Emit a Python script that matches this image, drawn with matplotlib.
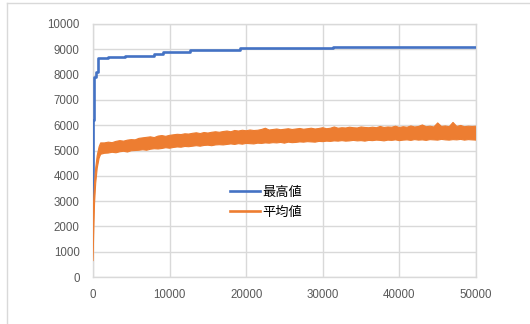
import numpy as np
import matplotlib
matplotlib.use("Agg")
from matplotlib import pyplot as plt
from matplotlib.lines import Line2D

# best-so-far value (step line)
max_x = [0, 40, 150, 400, 700, 2000, 4200, 7900, 9200, 12700, 19200, 31300, 50000]
max_y = [3100, 6200, 7900, 8100, 8640, 8680, 8730, 8800, 8890, 8970, 9050, 9110, 9110]

# average value, drawn as a noisy band (lower / upper envelope)
avg_x = [0, 80, 200, 350, 550, 800, 1000] + list(range(1500, 50001, 500))
avg_lo = [650, 1600, 2900, 3700, 4300, 4700, 4850,
          4890, 4900, 4930, 4910, 4950, 4970, 4940, 4990, 5000, 5010,
          5030, 5010, 5050, 5070, 5060, 5080, 5110, 5090, 5120, 5140,
          5130, 5160, 5150, 5170, 5190, 5170, 5200, 5210, 5190, 5220,
          5230, 5220, 5240, 5260, 5240, 5270, 5250, 5280, 5270, 5260,
          5290, 5280, 5300, 5290, 5310, 5300, 5320, 5290, 5330, 5310,
          5320, 5340, 5330, 5350, 5340, 5330, 5360, 5350, 5370, 5360,
          5380, 5370, 5390, 5370, 5380, 5400, 5380, 5390, 5370, 5400,
          5390, 5410, 5400, 5380, 5410, 5400, 5420, 5390, 5410, 5420,
          5400, 5430, 5410, 5420, 5400, 5430, 5420, 5410, 5440, 5420,
          5410, 5430, 5420, 5440, 5410, 5430, 5420, 5410]
avg_hi = [1600, 3000, 3700, 4300, 4800, 5150, 5300,
          5300, 5330, 5310, 5360, 5390, 5370, 5410, 5430, 5420, 5480,
          5500, 5520, 5540, 5510, 5570, 5590, 5560, 5600, 5620, 5640,
          5630, 5660, 5650, 5680, 5700, 5670, 5710, 5690, 5720, 5740,
          5720, 5750, 5770, 5740, 5790, 5770, 5800, 5780, 5810, 5790,
          5800, 5830, 5880, 5810, 5830, 5850, 5820, 5840, 5860, 5830,
          5850, 5870, 5840, 5860, 5880, 5850, 5870, 5900, 5860, 5880,
          5930, 5880, 5900, 5890, 5920, 5900, 5890, 5930, 5910, 5900,
          5920, 5900, 5950, 5910, 5930, 5920, 5960, 5910, 5940, 5920,
          5970, 5930, 5950, 6010, 5940, 5960, 5930, 6090, 5950, 5970,
          5940, 6110, 5950, 5990, 5940, 5960, 5950, 5960]

labels = ["最高値", "平均値"]
blue = "#4472C4"
orange = "#ED7D31"
grid_col = "#D9D9D9"
text_col = "#595959"

plt.rcParams['font.family'] = ['Liberation Sans', 'Noto Sans CJK JP']

fig = plt.figure(figsize=(5.30, 3.24), dpi=100)
ax = fig.add_axes([93/530, 1 - 277/324, (476 - 93)/530, (277 - 24)/324])

ax.plot(max_x, max_y, drawstyle="steps-post", color=blue, lw=1.9, label=labels[0], zorder=3)
ax.fill_between(avg_x, avg_lo, avg_hi, facecolor=orange, edgecolor="none", lw=0, zorder=4)
ax.plot(avg_x, avg_hi, color=orange, lw=0.8, zorder=4)
ax.plot(avg_x, avg_lo, color=orange, lw=0.8, zorder=4)
ax.plot([], [], color=orange, lw=1.9, label=labels[1])

ax.set_xlim(0, 50000)
ax.set_ylim(0, 10000)
ax.set_xticks(np.arange(0, 50001, 10000))
ax.set_yticks(np.arange(0, 10001, 1000))
ax.grid(True, color=grid_col, lw=1.0, zorder=0)
ax.set_axisbelow(True)
for s in ax.spines.values():
    s.set_color(grid_col)
    s.set_linewidth(1.0)
ax.tick_params(length=0, labelsize=8.3, colors=text_col)
ax.tick_params(axis="x", pad=9)
ax.tick_params(axis="y", pad=9.5)

leg = ax.legend(loc="upper left", bbox_to_anchor=(223/530, 1 - 179/324),
                bbox_transform=fig.transFigure, frameon=False,
                prop={'family': ['Noto Sans CJK JP'], 'size': 9.5},
                handlelength=2.3, handletextpad=0.2, labelspacing=0.55, borderpad=0)

# outer chart-area border (top and left visible)
fig.add_artist(Line2D([6.5/530, 6.5/530], [0, 1 - 3/324], color=grid_col, lw=1.0))
fig.add_artist(Line2D([6.5/530, 1], [1 - 3/324, 1 - 3/324], color=grid_col, lw=1.0))

plt.savefig("out.png", dpi=100)
